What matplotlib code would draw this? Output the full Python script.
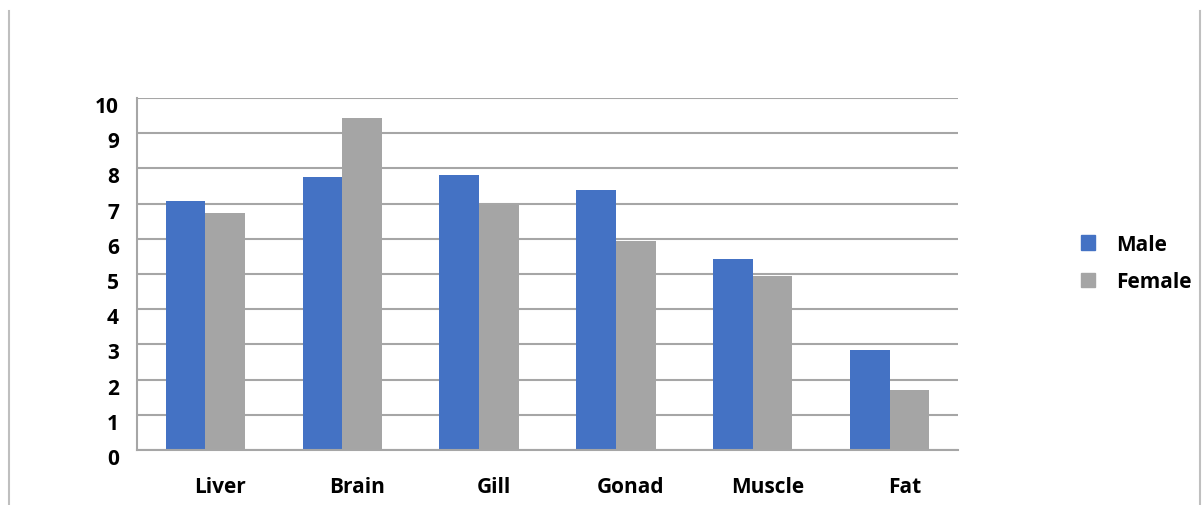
import numpy as np
import matplotlib
matplotlib.use("Agg")
import matplotlib.pyplot as plt
from matplotlib.lines import Line2D
from matplotlib.patches import Patch
from matplotlib.transforms import ScaledTranslation

categories = ["Liver", "Brain", "Gill", "Gonad", "Muscle", "Fat"]
male = [7.07, 7.76, 7.81, 7.39, 5.43, 2.84]
female = [6.73, 9.43, 6.96, 5.94, 4.94, 1.70]
y_ticks = [0, 1, 2, 3, 4, 5, 6, 7, 8, 9, 10]

MALE_COLOR = "#4472C4"
FEMALE_COLOR = "#A5A5A5"
GRID_COLOR = "#A6A6A6"
FS = 15

plt.rcParams["font.family"] = ["Open Sans", "DejaVu Sans"]
plt.rcParams["font.weight"] = "bold"

W, H = 1203, 506
fig = plt.figure(figsize=(W / 100, H / 100), dpi=100)
ax = fig.add_axes([137 / W, 1 - 451 / H, (958 - 137) / W, (451 - 99) / H])

x = np.arange(len(categories))
bw = 0.29
ax.bar(x - bw / 2, male, width=bw, color=MALE_COLOR, label="Male", zorder=2)
ax.bar(x + bw / 2, female, width=bw, color=FEMALE_COLOR, label="Female", zorder=2)

ax.set_xlim(-0.5, len(categories) - 0.5)
ax.set_ylim(0, 10)
ax.set_yticks(y_ticks)
ax.yaxis.grid(True, color=GRID_COLOR, linewidth=1.5, zorder=1)
ax.set_axisbelow(True)

for side in ["top", "right"]:
    ax.spines[side].set_visible(False)
for side in ["left", "bottom"]:
    ax.spines[side].set_color(GRID_COLOR)
    ax.spines[side].set_linewidth(1.5)
ax.spines["bottom"].set_zorder(3)

ax.set_xticks(x)
ax.set_xticklabels(categories, fontsize=FS, fontweight="bold")
ax.tick_params(axis="x", length=0, pad=19)
ax.tick_params(axis="y", length=0, pad=13, labelsize=FS)
for lbl in ax.get_yticklabels():
    lbl.set_fontweight("bold")
    lbl.set_transform(lbl.get_transform() + ScaledTranslation(0, -6 / 100, fig.dpi_scale_trans))
shift = ScaledTranslation(15 / 100, 0, fig.dpi_scale_trans)
for lbl in ax.get_xticklabels():
    lbl.set_transform(lbl.get_transform() + shift)

handles = [Patch(color=MALE_COLOR), Patch(color=FEMALE_COLOR)]
fig.legend(handles, ["Male", "Female"], loc="center left",
           bbox_to_anchor=(1062 / W, 1 - 264 / H), frameon=False,
           prop={"size": FS, "weight": "bold"}, handlelength=0.68,
           handleheight=0.68, handletextpad=1.0, labelspacing=0.8)

# frame edges of the chart area
fig.add_artist(Line2D([9 / W, 9 / W], [0, 1 - 12 / H], transform=fig.transFigure,
                      color="#BFBFBF", linewidth=1.5))
fig.add_artist(Line2D([1200 / W, 1200 / W], [0, 1 - 12 / H], transform=fig.transFigure,
                      color="#BFBFBF", linewidth=1.5))

fig.savefig("out.png", dpi=100)
